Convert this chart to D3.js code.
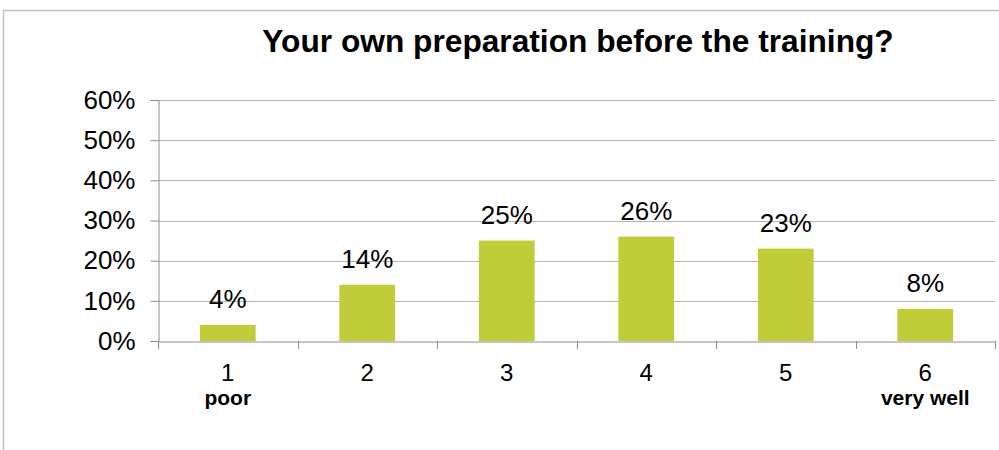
<!DOCTYPE html>
<html><head><meta charset="utf-8">
<script src="https://cdn.jsdelivr.net/npm/d3@7"></script>
<style>body{margin:0;background:#fff}svg{display:block}</style>
</head><body>
<svg id="c" width="999" height="450"></svg>
<script>
const title = "Your own preparation before the training?";
const categories = ["1","2","3","4","5","6"];
const subLabels = ["poor","","","","","very well"];
const values = [4,14,25,26,23,8];
const yTicks = [0,10,20,30,40,50,60];

const svg = d3.select("#c");
const W = 999, H = 450;
const m = {left:158, right:4, top:100, bottom:109};
const x0 = m.left, x1 = W - m.right, y0 = H - m.bottom, y1 = m.top;
const FONT = "Liberation Sans, Arial, sans-serif";

svg.append("rect").attr("x",3.5).attr("y",10.5).attr("width",1000).attr("height",460)
  .attr("fill","none").attr("stroke","#c0c0c0").attr("stroke-width",1.5);

svg.append("text").attr("x",578).attr("y",52).attr("text-anchor","middle")
  .attr("font-family",FONT).attr("font-weight","bold")
  .attr("font-size",31.7).attr("fill","#000").text(title);

const x = d3.scaleBand().domain(categories).range([x0,x1]).padding(0);
const y = d3.scaleLinear().domain([0,60]).range([y0,y1]);

// gridlines
svg.append("g").selectAll("line").data(yTicks.filter(d=>d>0)).join("line")
  .attr("x1",x0).attr("x2",x1).attr("y1",d=>Math.round(y(d))+0.5).attr("y2",d=>Math.round(y(d))+0.5)
  .attr("stroke","#b4b4b4").attr("stroke-width",1);

// y axis
const ya = svg.append("g").attr("transform",`translate(${x0+0.5},0)`)
  .call(d3.axisLeft(y).tickValues(yTicks).tickFormat(d=>d+"%").tickSize(8).tickPadding(15));
ya.select(".domain").attr("stroke","#8c8c8c");
ya.selectAll(".tick line").attr("stroke","#8c8c8c");
ya.selectAll(".tick text").attr("font-family",FONT)
  .attr("font-size",26).attr("fill","#000");

// bars
const bw = x.bandwidth()*0.4;
svg.append("g").selectAll("rect").data(values).join("rect")
  .attr("x",(d,i)=>x(categories[i])+x.bandwidth()/2-bw/2)
  .attr("width",bw)
  .attr("y",d=>y(d)).attr("height",d=>y0-y(d))
  .attr("fill","#c0cd38");

// value labels
svg.append("g").selectAll("text").data(values).join("text")
  .attr("x",(d,i)=>x(categories[i])+x.bandwidth()/2)
  .attr("y",d=>y(d)-17).attr("text-anchor","middle")
  .attr("font-family",FONT).attr("font-size",26)
  .attr("fill","#000").text(d=>d+"%");

// x axis
const xa = svg.append("g").attr("transform",`translate(0,${y0+0.5})`)
  .call(d3.axisBottom(x).tickSize(0).tickFormat(""));
xa.select(".domain").attr("stroke","#8c8c8c");
xa.selectAll(".tick").remove();
const bounds = categories.map(c=>x(c)).concat([x1]);
svg.append("g").selectAll("line").data(bounds).join("line")
  .attr("x1",d=>Math.round(d)+0.5).attr("x2",d=>Math.round(d)+0.5)
  .attr("y1",y0).attr("y2",y0+8).attr("stroke","#8c8c8c");

svg.append("g").selectAll("text").data(categories).join("text")
  .attr("x",d=>x(d)+x.bandwidth()/2).attr("y",381).attr("text-anchor","middle")
  .attr("font-family",FONT).attr("font-size",24)
  .attr("fill","#000").text(d=>d);
svg.append("g").selectAll("text").data(subLabels).join("text")
  .attr("x",(d,i)=>x(categories[i])+x.bandwidth()/2).attr("y",405).attr("text-anchor","middle")
  .attr("font-family",FONT).attr("font-size",21).attr("font-weight","bold")
  .attr("fill","#000").text(d=>d);
</script>
</body></html>
